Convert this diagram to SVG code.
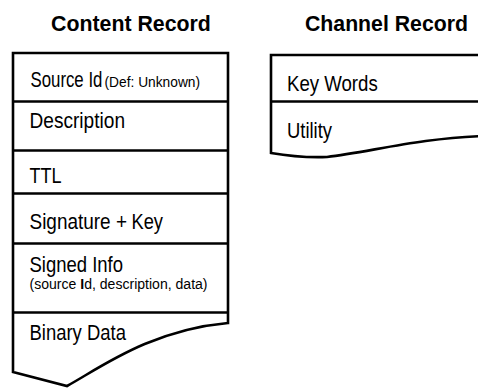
<svg xmlns="http://www.w3.org/2000/svg" width="478" height="388" viewBox="0 0 478 388">
<style>
.bg{fill:#ffffff}
.box{fill:#ffffff;stroke:#000000;stroke-width:2.6;stroke-linejoin:miter}
.div{stroke:#000000;stroke-width:2.6;fill:none}
.title{font-family:"Liberation Sans",Arial,sans-serif;font-weight:bold;font-size:22.5px;fill:#000}
.t{font-family:"Liberation Sans",Arial,sans-serif;font-size:22.5px;fill:#000}
.s{font-family:"Liberation Sans",Arial,sans-serif;font-size:14.5px;fill:#000}
</style>
<rect class="bg" x="0" y="0" width="478" height="388"/>
<g id="content-record">
<text class="title" transform="translate(51,31) scale(0.948,1)">Content Record</text>
<path class="box" d="M13,53 L228,53 L228,323 C150,330 100,368 67,386 Q40,379 13,372 Z"/>
<line class="div" x1="13" y1="101.5" x2="228" y2="101.5"/>
<line class="div" x1="13" y1="150.5" x2="228" y2="150.5"/>
<line class="div" x1="13" y1="193.5" x2="228" y2="193.5"/>
<line class="div" x1="13" y1="243.5" x2="228" y2="243.5"/>
<line class="div" x1="13" y1="312.5" x2="228" y2="312.5"/>
<text class="t" transform="translate(30.5,87) scale(0.747,1)">Source Id</text>
<text class="s" font-size="16" transform="translate(104.5,87) scale(0.95,1)">(Def: Unknown)</text>
<text class="t" transform="translate(29.5,128) scale(0.849,1)">Description</text>
<text class="t" transform="translate(29.5,183) scale(0.80,1)">TTL</text>
<text class="t" transform="translate(29.5,229) scale(0.843,1)">Signature +</text>
<text class="t" font-size="25" transform="translate(131.5,229) scale(0.812,1)">Key</text>
<text class="t" transform="translate(29.5,272) scale(0.822,1)">Signed Info</text>
<text class="s" transform="translate(29.5,289) scale(0.97,1)">(source <tspan font-weight="bold">I</tspan>d, description, data)</text>
<text class="t" transform="translate(29.5,340) scale(0.821,1)">Binary Data</text>
</g>
<g id="channel-record">
<text class="title" transform="translate(305,31) scale(0.945,1)">Channel Record</text>
<path class="box" d="M271,55 L484,55 L484,136 C420,138 370,152 327,157 Q300,158 271,153 Z"/>
<line class="div" x1="271" y1="101.5" x2="484" y2="101.5"/>
<text class="t" transform="translate(287,91) scale(0.828,1)">Key Words</text>
<text class="t" transform="translate(287,138) scale(0.819,1)">Utility</text>
</g>
<g id="connectors"/>
</svg>
